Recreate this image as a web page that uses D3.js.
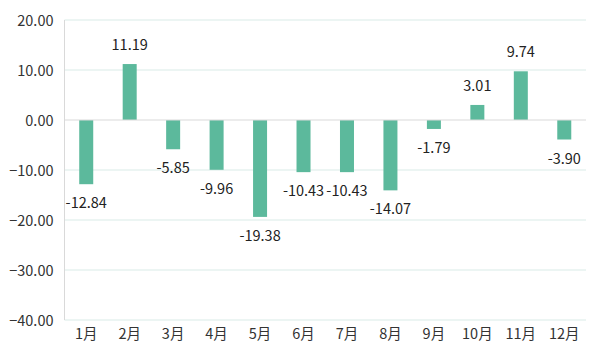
<!DOCTYPE html>
<html><head><meta charset="utf-8">
<script src="https://cdn.jsdelivr.net/npm/d3@7"></script>
<style>body{margin:0;background:#fff}svg{display:block}text{font-family:"Noto Sans CJK SC","Noto Sans",sans-serif}</style>
</head><body>
<svg id="c" width="600" height="360"></svg>
<script>
const categories = ["1月","2月","3月","4月","5月","6月","7月","8月","9月","10月","11月","12月"];
const values = [-12.84, 11.19, -5.85, -9.96, -19.38, -10.43, -10.43, -14.07, -1.79, 3.01, 9.74, -3.90];
const yTicks = [-40, -30, -20, -10, 0, 10, 20];

const svg = d3.select("#c");
const m = {l: 64.5, r: 586, t: 20, b: 320};
const x = d3.scaleBand().domain(categories).range([m.l, m.r]);
const y = d3.scaleLinear().domain([-40, 20]).range([m.b, m.t]);

// gridlines
svg.append("g").selectAll("line").data(yTicks.filter(d => d !== 0)).join("line")
  .attr("x1", m.l).attr("x2", m.r)
  .attr("y1", d => y(d)).attr("y2", d => y(d))
  .attr("stroke", "#e6f2ef").attr("stroke-width", 1.5);

// y axis labels
const yAxis = d3.axisLeft(y).tickValues(yTicks).tickFormat(d3.format(".2f")).tickSize(0).tickPadding(11);
const ya = svg.append("g").attr("transform", `translate(${m.l},0)`).call(yAxis);
ya.select(".domain").remove();
ya.selectAll("text").attr("font-size", 14.5).attr("fill", "#333").attr("dy", "0.35em");

// left axis line
svg.append("line").attr("x1", m.l).attr("x2", m.l).attr("y1", m.t).attr("y2", m.b)
  .attr("stroke", "#d9d9d9").attr("stroke-width", 1);

// bars
const bw = 14;
svg.append("g").selectAll("rect").data(values).join("rect")
  .attr("x", (d, i) => x(categories[i]) + x.bandwidth() / 2 - bw / 2)
  .attr("width", bw)
  .attr("y", d => y(Math.max(0, d)))
  .attr("height", d => Math.abs(y(d) - y(0)))
  .attr("fill", "#5cb99c");

// zero line
svg.append("line").attr("x1", m.l).attr("x2", m.r).attr("y1", y(0)).attr("y2", y(0))
  .attr("stroke", "#d9d9d9").attr("stroke-width", 1);

// value labels
svg.append("g").selectAll("text").data(values).join("text")
  .attr("x", (d, i) => x(categories[i]) + x.bandwidth() / 2)
  .attr("y", d => d >= 0 ? y(d) - 14 : y(d) + 24)
  .attr("text-anchor", "middle").attr("font-size", 14.5).attr("fill", "#222")
  .text(d => d.toFixed(2));

// x axis labels
const xAxis = d3.axisBottom(x).tickSize(0).tickPadding(9);
const xa = svg.append("g").attr("transform", `translate(0,${m.b})`).call(xAxis);
xa.select(".domain").remove();
xa.selectAll("text").attr("font-size", 14.5).attr("fill", "#333");
</script>
</body></html>
